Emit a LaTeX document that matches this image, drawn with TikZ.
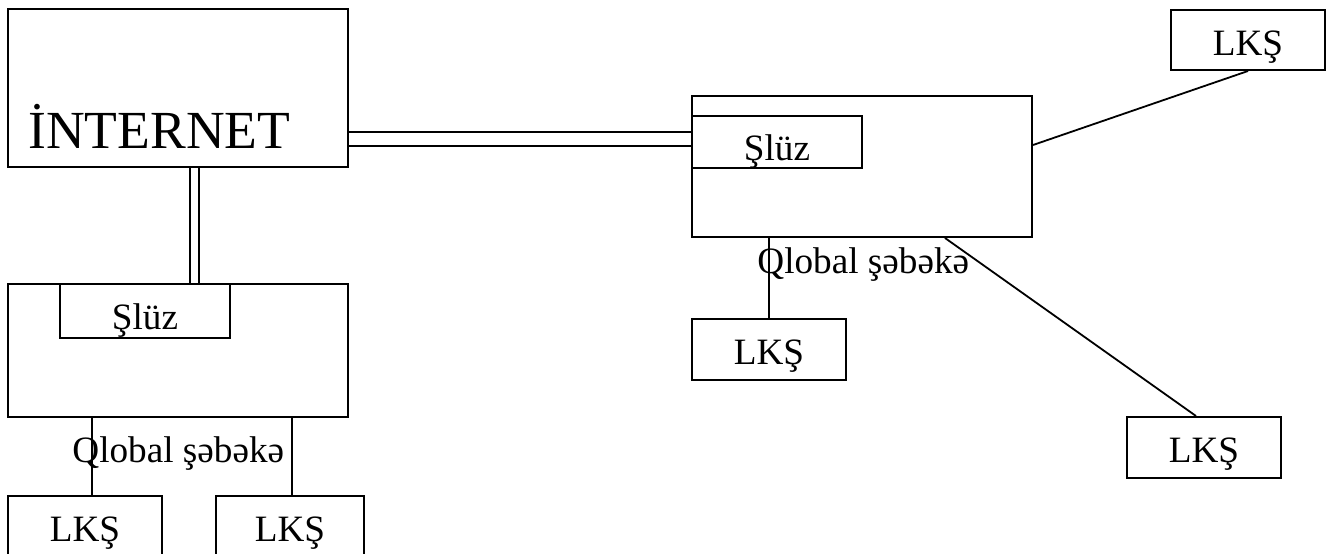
\documentclass[tikz,border=0pt]{standalone}
\usepackage{fontspec}
\setmainfont{Liberation Serif}
\usetikzlibrary{backgrounds}
\begin{document}
\begin{tikzpicture}[x=0.5pt,y=-0.5pt,
  box/.style={draw,line width=1pt,rectangle,inner sep=0pt},
  lbl/.style={font=\fontsize{18.6pt}{20pt}\selectfont,inner sep=0pt},
  lks/.style={box,lbl,text height=15pt,text depth=0pt},
  wire/.style={line width=0.9pt},
  dbl/.style={double,line width=1pt}]
\useasboundingbox (0,0) rectangle (1329,553);
\clip (0,0) rectangle (1329,553);

% Internet block
\node[box,minimum width=170pt,minimum height=79pt] (inet) at (178,88) {};
\node[anchor=base west,inner sep=0pt,font=\fontsize{26.8pt}{28pt}\selectfont] (inettxt) at (28,148) {İNTERNET};

% left wide-area network with its gateway
\node[box,minimum width=170pt,minimum height=66.5pt] (gwL) at (178,350.5) {};
\node[box,minimum width=85pt,minimum height=27pt] (slzL) at (145,311) {};
\node[lbl,anchor=base] (slzLtxt) at (145,329) {Şlüz};
\node[lbl,anchor=base west] (qlL) at (72,462) {Qlobal şəbəkə};
\node[lks,minimum width=77pt,minimum height=30pt] (lksL1) at (85,526) {LKŞ};
\node[lks,minimum width=74pt,minimum height=30pt] (lksL2) at (290,526) {LKŞ};

% right wide-area network with its gateway
\node[box,minimum width=170pt,minimum height=70.5pt] (gwR) at (862,166.5) {};
\node[box,minimum width=85pt,minimum height=26pt] (slzR) at (777,142) {};
\node[lbl,anchor=base] (slzRtxt) at (777,160) {Şlüz};
\node[lbl,anchor=base west] (qlR) at (757,273) {Qlobal şəbəkə};
\node[lks,minimum width=77pt,minimum height=30.5pt] (lksR1) at (769,349.5) {LKŞ};
\node[lks,minimum width=77pt,minimum height=30.5pt] (lksR2) at (1204,447.5) {LKŞ};
\node[lks,minimum width=77pt,minimum height=30pt] (lksR3) at (1248,40) {LKŞ};

% connections
\begin{scope}[on background layer]
  \draw[dbl,double distance=3.5pt] ([xshift=8.25pt]inet.south) -- ([xshift=8.25pt]inet.south |- gwL.north);
  \draw[dbl,double distance=6pt] ([yshift=-25.35pt]inet.east) -- ([yshift=-25.35pt]inet.east -| slzR.west);
  \draw[wire] ([xshift=3.5pt]lksL1.north) -- ([xshift=3.5pt]lksL1.north |- gwL.south);
  \draw[wire] ([xshift=1pt]lksL2.north) -- ([xshift=1pt]lksL2.north |- gwL.south);
  \draw[wire] (lksR1.north) -- (lksR1.north |- gwR.south);
  \draw[wire] ([xshift=41.5pt]gwR.south) -- ([xshift=-4pt]lksR2.north);
  \draw[wire] ([yshift=10.75pt]gwR.east) -- (lksR3.south);
\end{scope}
\end{tikzpicture}
\end{document}
